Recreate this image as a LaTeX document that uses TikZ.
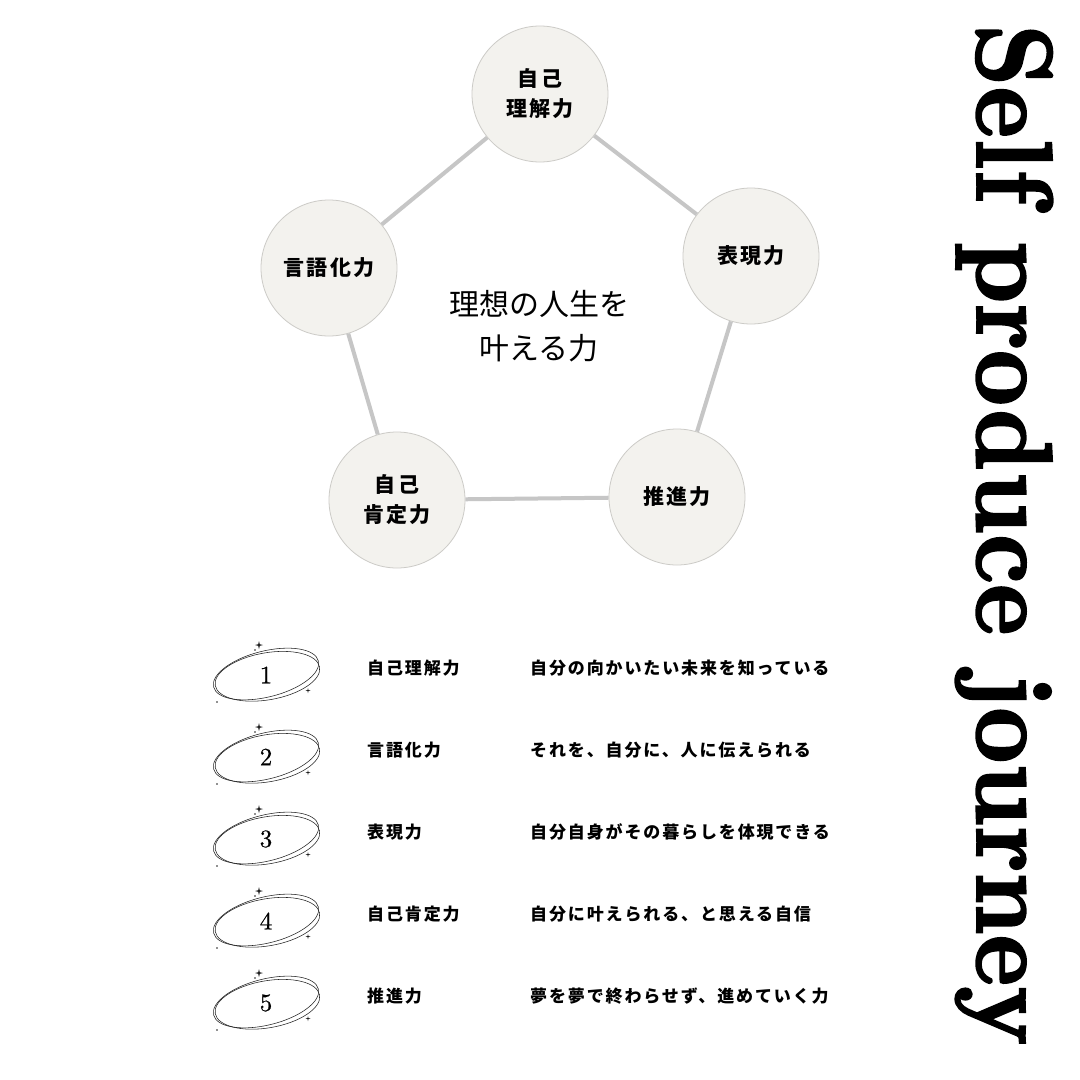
\documentclass[tikz,border=0pt]{standalone}
\usepackage{fontspec}
\newfontfamily\jp{Noto Sans CJK JP}
\newfontfamily\jpsp[LetterSpace=11]{Noto Sans CJK JP}
\newfontfamily\titlefont[Extension=.otf, FakeBold=2]{lmroman10-bold}
\newfontfamily\numfont[Extension=.otf, FakeBold=0.6]{lmroman10-regular}
\definecolor{circfill}{HTML}{F3F2EE}
\definecolor{circline}{HTML}{CCCBC7}
\definecolor{linegray}{HTML}{C6C6C6}
\definecolor{inkgray}{HTML}{222222}
\tikzset{
  skill/.style={circle, draw=circline, line width=0.8pt, fill=circfill,
    minimum size=136pt, inner sep=0pt, align=center,
    font=\jpsp\bfseries\fontsize{21}{30}\selectfont},
  link/.style={draw=linegray, line width=4pt},
  rowlabel/.style={anchor=west, inner sep=0pt,
    font=\jpsp\bfseries\fontsize{17}{20}\selectfont},
  numtxt/.style={inner sep=0pt, font=\numfont\fontsize{25}{25}\selectfont},
  sparkle/.style={fill=inkgray},
  badge/.pic={
    \draw[inkgray, line width=0.55pt, rotate=14] (0,0) ellipse [x radius=54pt, y radius=23pt];
    \draw[inkgray, line width=0.55pt, rotate=10] (1pt,-2.5pt) ellipse [x radius=53pt, y radius=23.5pt];
    \fill[sparkle] (-7pt,25pt) -- ++(0.8pt,3.2pt) -- ++(3.2pt,0.8pt) -- ++(-3.2pt,0.8pt) -- ++(-0.8pt,3.2pt) -- ++(-0.8pt,-3.2pt) -- ++(-3.2pt,-0.8pt) -- ++(3.2pt,-0.8pt) -- cycle;
    \fill[sparkle] (-11pt,24pt) circle (0.8pt);
    \fill[sparkle] (42pt,-19pt) -- ++(0.5pt,2pt) -- ++(2pt,0.5pt) -- ++(-2pt,0.5pt) -- ++(-0.5pt,2pt) -- ++(-0.5pt,-2pt) -- ++(-2pt,-0.5pt) -- ++(2pt,-0.5pt) -- cycle;
    \fill[sparkle] (-49pt,-28pt) circle (0.8pt);
    \node[numtxt] (-num) at (0,-1pt) {#1};
  }
}
\begin{document}
\begin{tikzpicture}[x=1pt,y=-1pt]
\useasboundingbox[fill=white] (0,0) rectangle (1080,1080);

% pentagon of skills
\node[skill] (top) at (540,94) {自己\\理解力};
\node[skill] (right) at (751,256) {表現力};
\node[skill] (bright) at (677,497) {推進力};
\node[skill] (bleft) at (397,500) {自己\\肯定力};
\node[skill] (left) at (329,268) {言語化力};

\draw[link] (top) -- (right);
\draw[link] (right) -- (bright);
\draw[link] (bright) -- (bleft);
\draw[link] (bleft) -- (left);
\draw[link] (left) -- (top);

\node[align=center, inner sep=0pt, font=\jp\fontsize{30}{44}\selectfont] (center) at (539,326) {理想の人生を\\叶える力};

% table
\pic (b1) at (266,674) {badge=1};
\pic (b2) at (266,756) {badge=2};
\pic (b3) at (266,838) {badge=3};
\pic (b4) at (266,920) {badge=4};
\pic (b5) at (266,1002) {badge=5};

\node[rowlabel] (l1) at (367,668) {自己理解力};
\node[rowlabel] (l2) at (367,750) {言語化力};
\node[rowlabel] (l3) at (367,832) {表現力};
\node[rowlabel] (l4) at (367,914) {自己肯定力};
\node[rowlabel] (l5) at (367,996) {推進力};

\node[rowlabel] (d1) at (530,668) {自分の向かいたい未来を知っている};
\node[rowlabel] (d2) at (530,750) {それを、自分に、人に伝えられる};
\node[rowlabel] (d3) at (530,832) {自分自身がその暮らしを体現できる};
\node[rowlabel] (d4) at (530,914) {自分に叶えられる、と思える自信};
\node[rowlabel] (d5) at (530,996) {夢を夢で終わらせず、進めていく力};

% vertical title
\node[rotate=-90, anchor=base west, inner sep=0pt] (title) at (977,24)
  {\scalebox{0.905}[1]{\titlefont\fontsize{108}{108}\selectfont Self produce journey}};
\end{tikzpicture}
\end{document}
